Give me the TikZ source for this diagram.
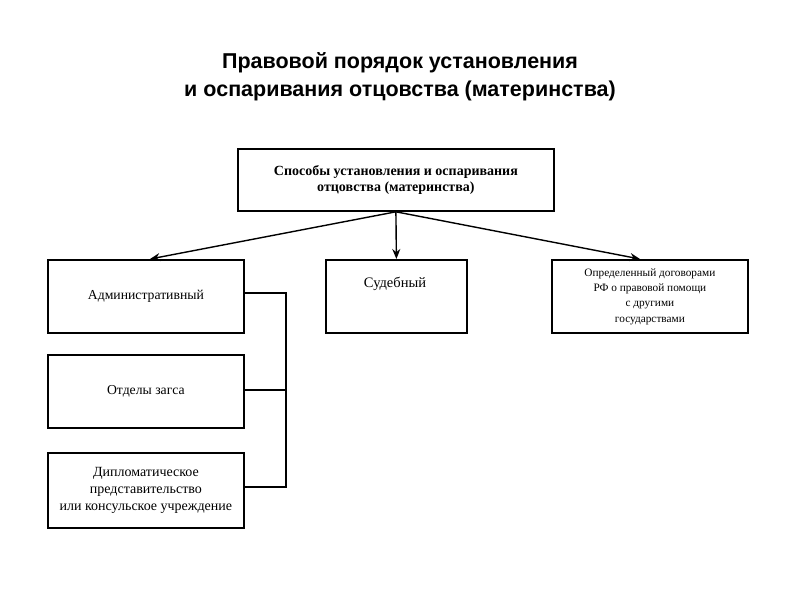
\documentclass[tikz,border=0pt]{standalone}
\usepackage{fontspec}
\setmainfont{Liberation Serif}
\newfontfamily\titlefont{Liberation Sans}
\usetikzlibrary{arrows.meta}
\begin{document}
\begin{tikzpicture}[x=1pt,y=-1pt,
  box/.style={draw,line width=1.8pt,inner sep=0pt,anchor=north west,align=center,font=\fontsize{13.7}{16}\selectfont},
  conn/.style={line width=1.4pt},
  arr/.style={line width=1.4pt,-{Stealth[length=10pt,width=8pt]}}]
\useasboundingbox (0,0) rectangle (800,600);
\node[font=\titlefont\bfseries\fontsize{21.5}{28}\selectfont,align=center] (title) at (400,77) {Правовой порядок установления\\и оспаривания отцовства (материнства)};
\node[box,minimum width=316pt,minimum height=62pt,font=\bfseries\fontsize{14}{16.5}\selectfont] (top) at (237,148) {Способы установления и оспаривания\\отцовства (материнства)};
\node[box,minimum width=196pt,minimum height=73pt] (adm) at (47,259) {Административный};
\node[box,minimum width=141pt,minimum height=73pt] (sud) at (325,259) {};
\node[font=\fontsize{14.5}{16}\selectfont] (sudt) at (395,284) {Судебный};
\node[box,minimum width=196pt,minimum height=73pt,font=\fontsize{11.3}{15.3}\selectfont] (dog) at (551,259) {Определенный договорами\\РФ о правовой помощи\\с другими\\государствами};
\node[box,minimum width=196pt,minimum height=73pt] (zags) at (47,354) {Отделы загса};
\node[box,minimum width=196pt,minimum height=75pt,font=\fontsize{14}{17}\selectfont] (dip) at (47,452) {Дипломатическое\\представительство\\или консульское учреждение};
\coordinate (b1) at (286,293);
\coordinate (b2) at (286,390);
\coordinate (b3) at (286,487);
\draw[arr] (top.south) -- (150,259);
\draw[arr] (top.south) -- (sud.north);
\draw[arr] (top.south) -- (640,259);
\draw[conn] (adm.east |- b1) -- (b1) -- (b3) -- (dip.east |- b3);
\draw[conn] (zags.east |- b2) -- (b2);
\end{tikzpicture}
\end{document}
